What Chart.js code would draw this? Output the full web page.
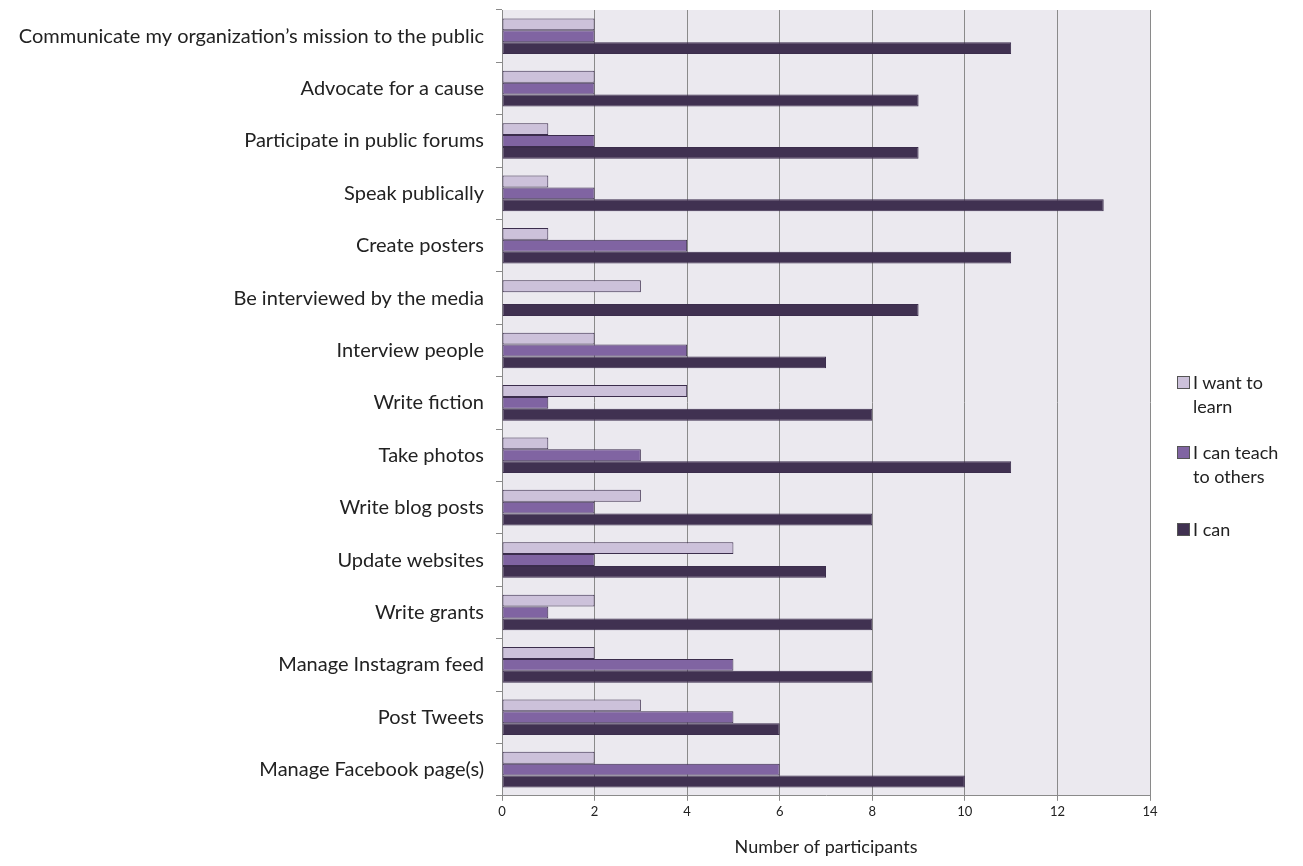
<!DOCTYPE html>
<html lang="en">
  <head>
    <title>Skills</title>
    <script src="https://cdn.jsdelivr.net/npm/chart.js@4.4.0/dist/chart.umd.min.js"></script>
    <style>
      body { margin: 0; background: #fff; }
      #wrap { position: relative; width: 1303px; height: 866px; }
      #legend { position: absolute; left: 1177px; top: 370px; font-family: Lato, "Open Sans", sans-serif; font-size: 18px; color: #222; }
      #legend div { position: relative; padding-left: 16px; line-height: 24px; margin-bottom: 22px; width: 96px; }
      #legend div:nth-child(2) { margin-bottom: 29px; }
      #legend span { position: absolute; left: 0; top: 6px; width: 11px; height: 11px; border: 1px solid #555; }
    </style>
  </head>
  <body>
    <div id="wrap">
      <canvas id="skillsChart" width="1303" height="866"></canvas>
      <div id="legend"></div>
    </div>
    <script>
      const categories = [
        "Communicate my organization\u2019s mission to the public",
        "Advocate for a cause",
        "Participate in public forums",
        "Speak publically",
        "Create posters",
        "Be interviewed by the media",
        "Interview people",
        "Write fiction",
        "Take photos",
        "Write blog posts",
        "Update websites",
        "Write grants",
        "Manage Instagram feed",
        "Post Tweets",
        "Manage Facebook page(s)"
      ];
      const seriesNames = ["I want to learn", "I can teach to others", "I can"];
      const wantToLearn = [2, 2, 1, 1, 1, 3, 2, 4, 1, 3, 5, 2, 2, 3, 2];
      const canTeach = [2, 2, 2, 2, 4, 0, 4, 1, 3, 2, 2, 1, 5, 5, 6];
      const iCan = [11, 9, 9, 13, 11, 9, 7, 8, 11, 8, 7, 8, 8, 6, 10];
      const colors = ["#ccc1da", "#8064a2", "#403151"];

      // plot area background
      const plotBg = {
        id: "plotBg",
        beforeDraw(chart) {
          const a = chart.chartArea;
          const ctx = chart.ctx;
          ctx.save();
          ctx.fillStyle = "#ebe9ef";
          ctx.fillRect(a.left, a.top, a.right - a.left, a.bottom - a.top);
          ctx.restore();
        }
      };

      const font = "Lato, 'Open Sans', sans-serif";
      let ctx = document.getElementById("skillsChart").getContext("2d");
      let skillsChart = new Chart(ctx, {
        type: "bar",
        data: {
          labels: categories,
          datasets: [wantToLearn, canTeach, iCan].map((vals, i) => ({
            label: seriesNames[i],
            data: vals,
            backgroundColor: colors[i],
            borderColor: "#3b2d4c",
            borderWidth: 1,
            borderSkipped: false,
            categoryPercentage: 0.68,
            barPercentage: 1.0
          }))
        },
        options: {
          indexAxis: "y",
          responsive: false,
          animation: false,
          layout: { padding: { top: 10, right: 153, bottom: 8, left: 0 } },
          plugins: {
            legend: { display: false },
            tooltip: { enabled: false }
          },
          scales: {
            x: {
              min: 0,
              max: 14,
              ticks: { stepSize: 2, color: "#222", font: { family: font, size: 13 }, padding: 3 },
              grid: { color: "#8a8a8a", lineWidth: 1, tickLength: 5, tickColor: "#8a8a8a" },
              border: { color: "#8a8a8a" },
              title: { display: true, text: "Number of participants", color: "#222", font: { family: font, size: 18 }, padding: { top: 14, bottom: 0 } }
            },
            y: {
              afterFit(scale) {
                scale.width = 502;
                scale.paddingTop = 0;
                scale.paddingBottom = 0;
              },
              ticks: { color: "#222", font: { family: font, size: 20 }, padding: 12 },
              grid: { offset: true, drawOnChartArea: false, tickLength: 6, tickColor: "#8a8a8a" },
              border: { color: "#8a8a8a" }
            }
          }
        },
        plugins: [plotBg]
      });

      const legend = document.getElementById("legend");
      seriesNames.forEach((name, i) => {
        const item = document.createElement("div");
        item.innerHTML = `<span style="background:${colors[i]}"></span>${name}`;
        legend.appendChild(item);
      });
    </script>
  </body>
</html>
